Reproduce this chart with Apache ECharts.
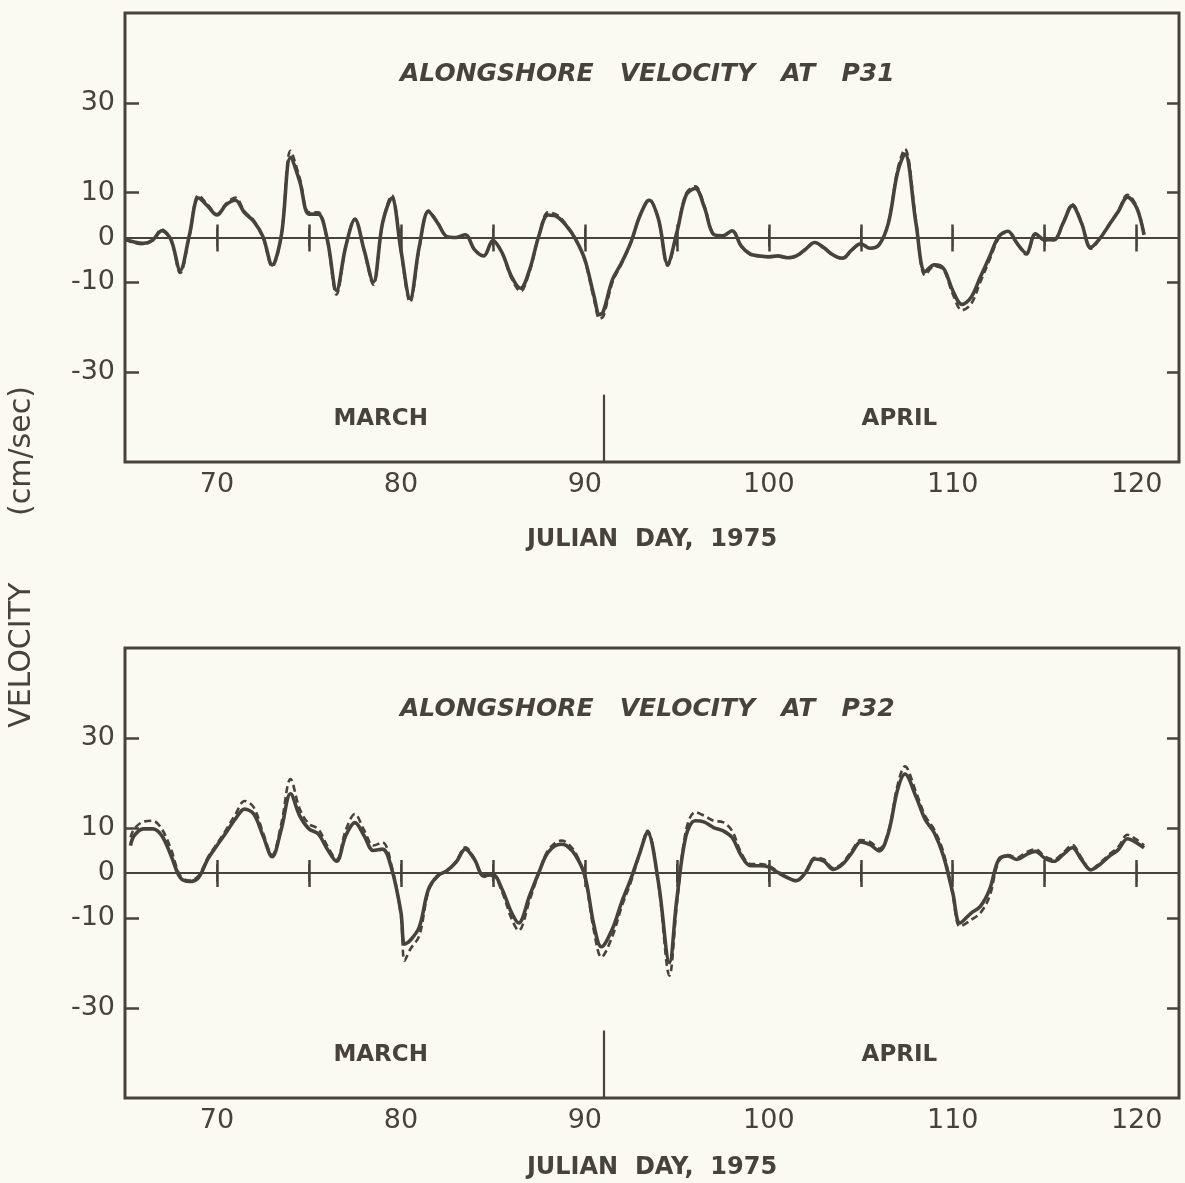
<!DOCTYPE html>
<html><head><meta charset="utf-8">
<script src="https://cdn.jsdelivr.net/npm/echarts@6/dist/echarts.min.js"></script>
<style>html,body{margin:0;padding:0;background:#fbfaf2;} #c{width:1185px;height:1183px;}</style>
</head><body><div id="c"></div>
<script>
// ---- data ----
const p31Days = [65,65.5,66,66.5,67,67.5,68,68.5,69,69.5,70,70.5,71,71.5,72,72.5,73,73.5,74,74.5,75,75.5,76,76.5,77,77.5,78,78.5,79,79.5,80,80.5,81,81.5,82,82.5,83,83.5,84,84.5,85,85.5,86,86.5,87,87.5,88,88.5,89,89.5,90,90.5,90.8,91,91.5,92,92.5,93,93.5,94,94.5,95,95.5,96,96.5,97,97.5,98,98.5,99,99.5,100,100.5,101,101.5,102,102.5,103,103.5,104,104.5,105,105.5,106,106.5,107,107.4,108,108.5,109,109.5,110,110.5,111,111.5,112,112.5,113,113.5,114,114.5,115,115.5,116,116.5,117,117.5,118,118.5,119,119.5,120,120.4];
const p31Solid = [-0.3,-1.0,-1.3,-0.6,1.5,-0.5,-7.3,0.5,8.8,7.0,5.0,7.3,8.3,5.5,3.6,0.2,-6.1,0.5,17.8,12.5,5.2,5.2,-0.5,-11.8,-2.0,4.0,-2.8,-9.9,3.2,8.8,-2.8,-13.6,-2.0,5.8,3.2,0.2,0.0,0.6,-2.7,-4.1,-0.7,-3.4,-8.6,-11.3,-7.1,0.4,5.0,4.6,2.6,-0.4,-4.9,-13.1,-17.2,-16.5,-9.4,-5.6,-1.1,4.9,8.3,4.1,-5.8,1.1,9.4,10.9,6.7,0.7,0.4,1.5,-1.9,-3.7,-4.1,-4.3,-4.1,-4.5,-4.1,-2.6,-1.1,-2.3,-3.9,-4.6,-2.8,-1.4,-2.4,-1.6,3.2,14.5,18.6,3.2,-7.6,-6.1,-6.9,-11.8,-14.9,-13.3,-8.8,-4.3,0.2,1.4,-1.3,-3.5,0.8,-0.5,-0.5,3.2,7.1,3.2,-2.2,-0.2,2.8,5.8,9.0,6.6,0.6];
const p31Dashed = [-0.5,-1.2,-1.5,-0.6,1.8,-0.5,-7.9,0.3,9.4,7.3,5.2,7.6,8.9,5.8,3.8,0.0,-6.5,0.5,19.3,13.2,5.6,5.6,-0.7,-12.7,-2.2,4.2,-3.0,-10.5,3.2,9.4,-3.0,-14.4,-2.4,6.0,3.4,0.2,0.0,0.6,-2.7,-4.2,-0.7,-3.5,-9.0,-12.0,-7.5,0.4,5.6,5.0,2.8,-0.4,-5.2,-13.8,-18.1,-17.6,-10.0,-5.8,-1.2,5.0,8.5,4.1,-6.3,1.0,9.8,11.4,7.0,0.8,0.4,1.5,-1.9,-3.8,-4.2,-4.4,-4.2,-4.6,-4.2,-2.6,-1.1,-2.4,-4.0,-4.8,-2.9,-1.4,-2.4,-1.6,3.4,15.2,19.7,3.8,-8.4,-6.4,-7.2,-12.6,-16.2,-14.8,-9.9,-5.0,-0.2,1.4,-1.4,-3.8,0.8,-0.6,-0.6,3.3,7.4,3.4,-2.5,-0.3,2.9,6.0,9.5,6.9,0.8];

const p32Days = [65.3,65.5,66,66.5,67,67.5,68,68.5,69,69.5,70,70.5,71,71.5,72,72.5,73,73.5,74,74.5,75,75.5,76,76.5,77,77.5,78,78.5,79,79.5,80,80.2,80.5,81,81.5,82,82.5,83,83.5,84,84.5,85,85.5,86,86.4,87,87.5,88,88.7,89,89.5,90,90.5,90.9,91.5,92,92.5,93,93.4,94,94.6,95,95.5,96,96.5,97,97.5,98,98.5,99,99.5,100,100.5,101,101.5,102,102.5,103,103.5,104,104.5,105,105.5,106,106.5,107,107.4,108,108.5,109,109.5,110,110.4,111,111.5,112,112.5,113,113.5,114,114.5,115,115.5,116,116.5,117,117.5,118,118.5,119,119.5,120,120.4];
const p32Solid = [6.1,8.3,9.8,9.8,8.3,3.9,-1.0,-1.9,-1.0,3.1,6.1,9.0,12.0,14.2,13.1,8.3,3.6,9.8,17.6,12.7,9.8,8.7,5.3,2.6,8.3,11.2,8.3,5.0,5.3,0.9,-8.7,-15.8,-15.0,-12.0,-3.6,-0.6,0.5,2.4,5.3,3.0,-0.6,-0.4,-3.6,-8.7,-11.1,-5.0,0.1,4.6,6.4,6.1,3.9,-0.6,-11.7,-16.4,-12.4,-6.5,-1.3,4.6,9.0,-2.1,-19.9,-5.8,8.3,11.6,11.3,10.1,9.4,7.9,3.9,1.6,1.6,1.3,0.1,-1.0,-1.7,0.1,3.1,2.6,0.8,1.9,4.4,6.9,6.3,4.9,8.9,18.5,22.0,17.0,11.9,8.9,3.7,-4.4,-11.1,-8.9,-7.4,-3.7,3.0,3.8,3.0,4.1,4.8,3.3,2.6,4.1,5.6,3.0,0.7,1.9,3.7,5.2,7.6,6.7,5.6];
const p32Dashed = [7.9,9.8,11.4,11.6,9.8,5.3,-0.6,-1.7,-0.6,3.4,6.5,9.6,13.0,16.0,14.6,9.0,4.0,11.0,20.9,14.2,10.9,9.8,6.0,3.0,9.5,13.1,9.5,6.1,6.8,1.5,-9.5,-19.5,-17.0,-13.9,-4.0,-0.8,0.5,2.6,5.7,3.2,-0.8,-0.6,-4.2,-10.0,-12.8,-6.0,0.0,5.0,7.2,6.8,4.4,-1.0,-13.0,-18.7,-14.0,-7.5,-2.0,4.6,9.4,-2.5,-22.8,-7.0,9.5,13.5,12.7,11.6,11.3,9.4,4.5,2.0,2.0,1.6,0.3,-1.0,-1.8,0.3,3.4,3.0,1.1,2.2,4.9,7.3,6.9,5.4,9.2,19.5,23.7,18.0,12.7,9.6,4.5,-4.8,-11.9,-10.4,-8.9,-5.2,2.6,4.0,3.4,4.6,5.3,3.7,3.0,4.5,6.2,3.4,0.8,2.2,4.1,5.8,8.5,7.4,6.1];

const xTickDays = [70,75,80,85,90,95,100,105,110,115,120];
const xLabelDays = [70,80,90,100,110,120];
const yTickVals = [-30,-10,10,30];
const yLabelVals = [-30,-10,0,10,30];
const monthNames = ['MARCH','APRIL'];
const monthLabelDays = [78.9,107.1];
const monthLabelVal = -40.4;
const monthDividerDay = 91;
const monthDividerSpan = [-35,-50];
const panelTitles = ['ALONGSHORE   VELOCITY   AT   P31','ALONGSHORE   VELOCITY   AT   P32'];
const xName = 'JULIAN  DAY,  1975';
const yName = 'VELOCITY       (cm/sec)';

// ---- styling ----
const ink = '#47423d';
const font = 'DejaVu Sans';
const X_MIN = 65, X_MAX = 122.3, Y_MIN = -50, Y_MAX = 50;

const grids = [
  {left:125, right:6, top:13, height:449},
  {left:125, right:6, top:648, height:450}
].map(g => Object.assign(g, {show:true, borderColor:ink, borderWidth:3, backgroundColor:'transparent'}));

const xAxis = [], yAxis = [], series = [];
const nameGaps = [66, 58];
[0,1].forEach(gi => {
  xAxis.push({
    gridIndex:gi, type:'value', min:X_MIN, max:X_MAX, position:'bottom',
    axisLine:{show:false}, splitLine:{show:false},
    axisTick:{show:true, inside:true, length:13, customValues:xTickDays, lineStyle:{color:ink, width:2.5}},
    axisLabel:{show:true, customValues:xLabelDays, color:ink, fontSize:27, fontFamily:font, margin:9},
    name:xName, nameLocation:'middle', nameGap:nameGaps[gi],
    nameTextStyle:{color:ink, fontSize:24, fontWeight:'bold', fontFamily:font}
  });
  xAxis.push({
    gridIndex:gi, type:'value', min:X_MIN, max:X_MAX, position:'top',
    axisLine:{show:false}, splitLine:{show:false}, axisLabel:{show:false},
    axisTick:{show:true, inside:true, length:14, customValues:xTickDays, lineStyle:{color:ink, width:2.5}}
  });
  yAxis.push({
    gridIndex:gi, type:'value', min:Y_MIN, max:Y_MAX, position:'left',
    axisLine:{show:false}, splitLine:{show:false},
    axisTick:{show:true, inside:true, length:14, customValues:yTickVals, lineStyle:{color:ink, width:2.5}},
    axisLabel:{show:true, customValues:yLabelVals, color:ink, fontSize:27, fontFamily:font, margin:10}
  });
  yAxis.push({
    gridIndex:gi, type:'value', min:Y_MIN, max:Y_MAX, position:'right',
    axisLine:{show:false}, splitLine:{show:false}, axisLabel:{show:false},
    axisTick:{show:true, inside:true, length:12, customValues:yTickVals, lineStyle:{color:ink, width:2.5}}
  });
});

const panels = [
  {days:p31Days, solid:p31Solid, dashed:p31Dashed},
  {days:p32Days, solid:p32Solid, dashed:p32Dashed}
];
panels.forEach((p, gi) => {
  const xi = gi*2, yi = gi*2;
  series.push({
    type:'line', name:'dashed'+gi, xAxisIndex:xi, yAxisIndex:yi, smooth:0.35, symbol:'none',
    data:p.days.map((d,i)=>[d,p.dashed[i]]),
    lineStyle:{color:ink, width:2.6, type:[7,4]}, z:3
  });
  series.push({
    type:'line', name:'solid'+gi, xAxisIndex:xi, yAxisIndex:yi, smooth:0.35, symbol:'none',
    data:p.days.map((d,i)=>[d,p.solid[i]]),
    lineStyle:{color:ink, width:3.6}, z:4,
    markLine:{
      silent:true, symbol:['none','none'], label:{show:false},
      lineStyle:{color:ink, width:1.8, type:'solid', opacity:1},
      data:[
        [{coord:[X_MIN,0]},{coord:[X_MAX,0]}],
        [{coord:[monthDividerDay,monthDividerSpan[0]], lineStyle:{width:2.2}},{coord:[monthDividerDay,monthDividerSpan[1]]}]
      ]
    }
  });
  series.push({
    type:'scatter', name:'zeroTicks'+gi, xAxisIndex:xi, yAxisIndex:yi, silent:true,
    symbol:'rect', symbolSize:[1.6,18], itemStyle:{color:ink, opacity:1}, z:2,
    data:xTickDays.map(d=>[d,0])
  });
  series.push({
    type:'scatter', name:'months'+gi, xAxisIndex:xi, yAxisIndex:yi, silent:true,
    symbolSize:0, itemStyle:{opacity:1, color:ink},
    data:monthNames.map((m,i)=>({name:m, value:[monthLabelDays[i], monthLabelVal]})),
    label:{show:true, position:'inside', formatter:'{b}', color:ink, opacity:1, fontSize:23, fontWeight:'bold', fontFamily:font}
  });
});

const chart = echarts.init(document.getElementById('c'), null, {renderer:'canvas'});
chart.setOption({
  animation:false,
  backgroundColor:'#fbfaf2',
  title: panelTitles.map((t,i)=>({
    text:t, left:400, top:[62,697][i], padding:0,
    textStyle:{color:ink, fontSize:25, fontStyle:'italic', fontWeight:'bold', fontFamily:font}
  })),
  grid:grids, xAxis:xAxis, yAxis:yAxis, series:series,
  graphic:[{
    type:'text', x:22, y:557, rotation:Math.PI/2,
    style:{text:yName, x:0, y:0, textAlign:'center', textVerticalAlign:'middle',
      font:'30px "DejaVu Sans"', fill:ink}
  }]
});
</script>
</body></html>
